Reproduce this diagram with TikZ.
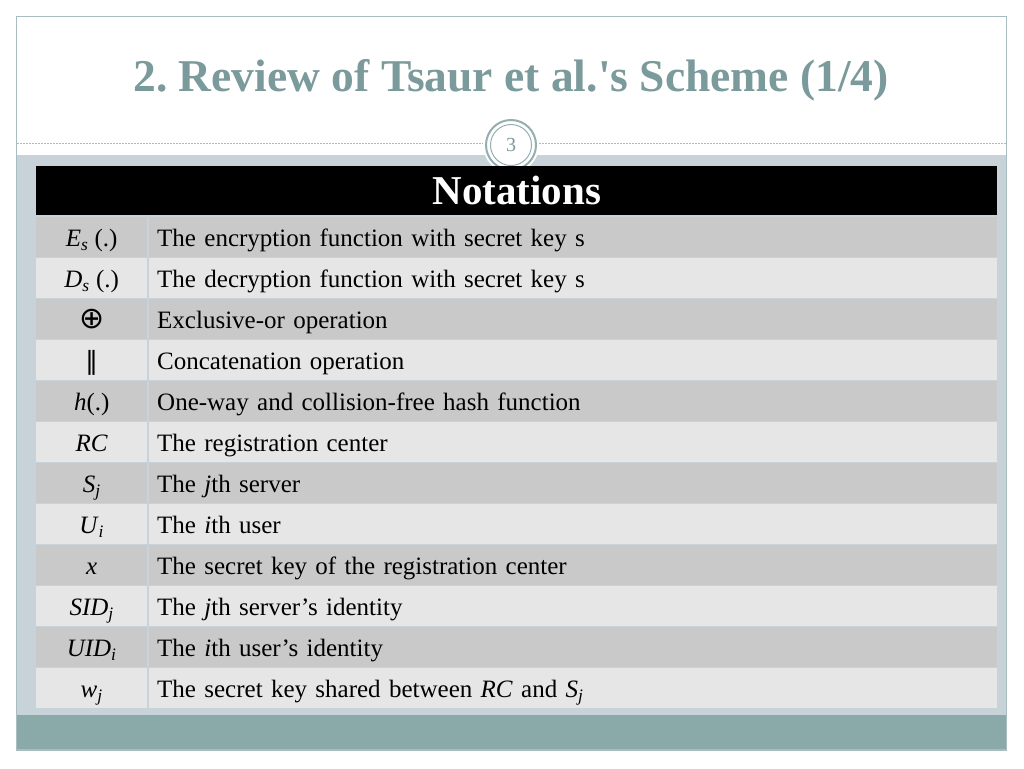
\documentclass[tikz,border=0pt]{standalone}
\usepackage{fontspec}
\setmainfont{Liberation Serif}
\newfontfamily\symfont{DejaVu Sans}
\usepackage{tikz}
\usetikzlibrary{positioning}
\definecolor{titlecol}{HTML}{7B9A9B}
\definecolor{framecol}{HTML}{A9BDC0}
\definecolor{bluebg}{HTML}{C7D3D9}
\definecolor{tealband}{HTML}{8AAAAA}
\definecolor{rowdark}{HTML}{C9C9C9}
\definecolor{rowlight}{HTML}{E6E6E6}
\newcommand{\ital}[1]{\textit{#1}}
\newcommand{\sub}[2]{\textit{#1}\textsubscript{\textit{#2}}}
\frenchspacing
\tikzset{
  symcell/.style={anchor=north west, minimum width=111pt, minimum height=39.5pt, inner sep=0pt,
                  text height=21pt, text depth=2pt, font=\fontsize{25}{28}\selectfont},
  desccell/.style={anchor=north west, minimum height=39.5pt, text width=832pt, inner xsep=8pt, inner ysep=0pt,
                   text height=21pt, text depth=2pt, align=left, font=\fontsize{25}{28}\selectfont},
  row0/.style={fill=rowlight},
  row1/.style={fill=rowdark}
}

\begin{document}
\begin{tikzpicture}[x=1pt,y=-1pt]
        \useasboundingbox (0,0) rectangle (1024,768);
        \fill[white] (0,0) rectangle (1024,768);
        \fill[bluebg] (17,155) rectangle (1006,715);
        \fill[tealband] (17,715) rectangle (1006,750);
        \draw[framecol, line width=1.2pt] (16.5,16.5) rectangle (1006.5,750);
        \draw[framecol, line width=1pt, dash pattern=on 2pt off 1pt] (17,143) -- (1006,143);
        \node[font=\fontsize{45.5}{50}\selectfont\bfseries, text=titlecol] (title) at (511,80) {2. Review of Tsaur et al.\textquotesingle s Scheme (1/4)};
        \node[circle, fill=white, minimum size=56pt, inner sep=0pt] (pagecirc) at (511,145) {};
        \draw[titlecol!80, line width=2pt] (pagecirc.center) circle (25);
        \draw[titlecol!80, line width=1pt] (pagecirc.center) circle (20.5);
        \node[font=\fontsize{20}{22}\selectfont, text=titlecol] (pagenum) at (pagecirc.center) {3};
        \node[fill=black, anchor=north west, minimum width=961pt, minimum height=49pt, inner sep=0pt,
              text=white, font=\fontsize{41}{44}\selectfont\bfseries] (head) at (36,166) {Notations};
        \foreach \sym/\desc [count=\i] in {
            {\sub{E}{s} (.)}/{The encryption function with secret key s},
            {\sub{D}{s} (.)}/{The decryption function with secret key s},
            {\symfont\fontsize{30}{30}\selectfont ⊕}/{Exclusive-or operation},
            {\symfont ‖}/{Concatenation operation},
            {\ital{h}(.)}/{One-way and collision-free hash function},
            {\ital{RC}}/{The registration center},
            {\sub{S}{j}}/{The \ital{j}th server},
            {\sub{U}{i}}/{The \ital{i}th user},
            {\ital{x}}/{The secret key of the registration center},
            {\sub{SID}{j}}/{The \ital{j}th server’s identity},
            {\sub{UID}{i}}/{The \ital{i}th user’s identity},
            {\sub{w}{j}}/{The secret key shared between \ital{RC} and \sub{S}{j}}}
        {
            \pgfmathtruncatemacro\rowpar{mod(\i,2)}
            \node[symcell, row\rowpar] (sym\i) at (36,{217+(\i-1)*41}) {\sym};
            \node[desccell, row\rowpar] (desc\i) at (149,{217+(\i-1)*41}) {\desc};
        }
    \end{tikzpicture}
\end{document}
